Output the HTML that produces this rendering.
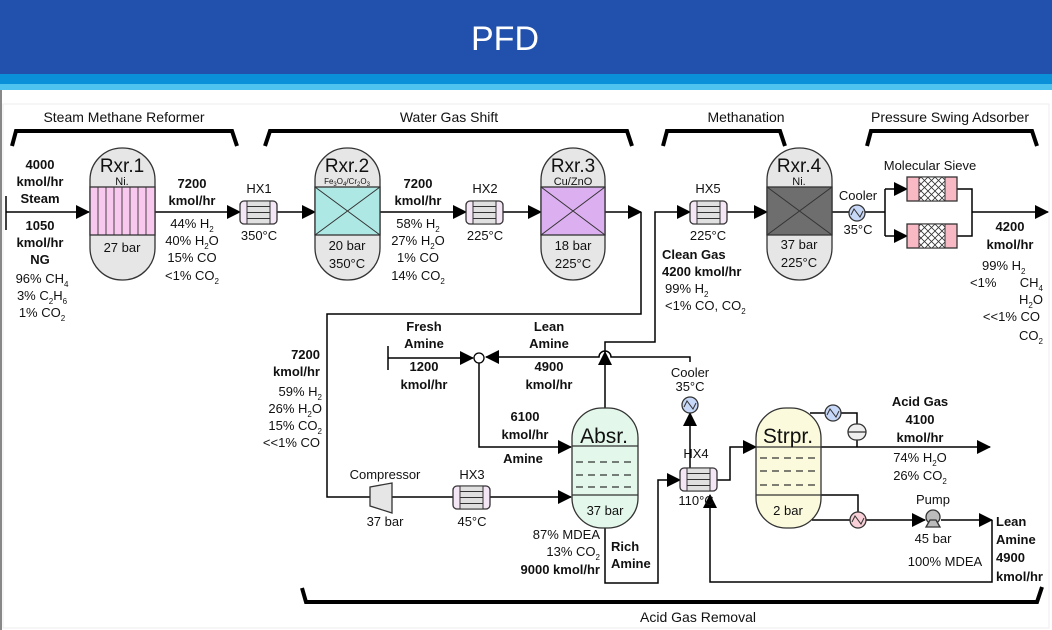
<!DOCTYPE html>
<html><head><meta charset="utf-8"><style>
html,body{margin:0;padding:0;background:#fff;}
svg{display:block;}
text{font-family:"Liberation Sans",sans-serif;fill:#111;}
.b{font-weight:bold;}
</style></head><body>
<svg width="1052" height="630" viewBox="0 0 1052 630" xmlns="http://www.w3.org/2000/svg">
<defs>
<marker id="ar" markerWidth="14" markerHeight="14" refX="13" refY="7" orient="auto" markerUnits="userSpaceOnUse"><path d="M0,0 L14,7 L0,14 Z" fill="#000"/></marker>
<pattern id="hatch" width="7" height="7" patternUnits="userSpaceOnUse"><path d="M0,0 L7,7 M7,0 L0,7" stroke="#333" stroke-width="0.8"/></pattern>
<g id="hx">
<rect x="0" y="0" width="37" height="23" rx="4" fill="#f5e6f5" stroke="#333" stroke-width="1.3"/>
<rect x="7" y="0" width="23" height="23" fill="#e0e0e0" stroke="#333" stroke-width="1"/>
<path d="M7,5.5 H30 M7,11.5 H30 M7,17.5 H30" stroke="#333" stroke-width="1"/>
</g>
<g id="sieve">
<rect x="0" y="0" width="50" height="24" fill="#f8b8c4" stroke="#333" stroke-width="1.3"/>
<rect x="12" y="0" width="26" height="24" fill="#fff" stroke="#333" stroke-width="1"/>
<rect x="12" y="0" width="26" height="24" fill="url(#hatch)"/>
</g>
</defs>
<!-- header -->
<rect x="0" y="0" width="1052" height="74" fill="#2150ad"/>
<rect x="0" y="74" width="1052" height="10" fill="#0a8fd9"/>
<rect x="0" y="84" width="1052" height="6" fill="#4fc3f0"/>
<text x="505" y="50" font-size="34" fill="#fff" text-anchor="middle" style="fill:#fff">PFD</text>
<rect x="0" y="90" width="2" height="540" fill="#888"/>
<rect x="3" y="104" width="1046" height="524" fill="none" stroke="#eee"/>

<g font-size="14" text-anchor="middle">
<text x="124" y="122">Steam Methane Reformer</text>
<text x="449" y="122">Water Gas Shift</text>
<text x="746" y="122">Methanation</text>
<text x="950" y="122">Pressure Swing Adsorber</text>
<text x="698" y="622">Acid Gas Removal</text>
</g>
<g fill="none" stroke="#000" stroke-width="4">
<path d="M12,146 L16,131 H232 L237,146"/>
<path d="M265,146 L270,131 H627 L632,146"/>
<path d="M663,146 L667,131 H780 L785,146"/>
<path d="M867,146 L871,131 H1032 L1037,146"/>
<path d="M302,588 L306,602 H1037 L1042,587"/>
</g>

<!-- lines -->
<g fill="none" stroke="#000" stroke-width="1.5">
<path d="M6,196 V230"/>
<path d="M6,212 H89" marker-end="url(#ar)"/>
<path d="M155,212 H240" marker-end="url(#ar)"/>
<path d="M277,212 H315" marker-end="url(#ar)"/>
<path d="M380,212 H466" marker-end="url(#ar)"/>
<path d="M503,212 H541" marker-end="url(#ar)"/>
<path d="M605,212 H641" marker-end="url(#ar)"/>
<path d="M641,212 V314 H327 V497 H370"/>
<path d="M392,497 H453"/>
<path d="M490,497 H571" marker-end="url(#ar)"/>
<path d="M605,408 V352" marker-end="url(#ar)"/>
<path d="M605,352 V342 H655 V212 H690" marker-end="url(#ar)"/>
<path d="M727,212 H767" marker-end="url(#ar)"/>
<path d="M832,212 H849"/>
<path d="M865,212 H885 M885,189 V236"/>
<path d="M885,189 H907" marker-end="url(#ar)"/>
<path d="M885,236 H907" marker-end="url(#ar)"/>
<path d="M957,189 H972 V236 H957 M972,212 H1048" marker-end="url(#ar)"/>
<path d="M388,346 V370 M388,358 H473" marker-end="url(#ar)"/>
<path d="M690,362 V357 H611 A6,6 0 0 0 599,357 H486" marker-end="url(#ar)"/>
<path d="M479,363 V447 H571" marker-end="url(#ar)"/>
<path d="M605,528 V583 H658 V480 H680" marker-end="url(#ar)"/>
<path d="M690,468 V413" marker-end="url(#ar)"/>
<path d="M712,480 H730 V447 H756" marker-end="url(#ar)"/>
<path d="M810,413 H825 M841,413 H857 V424 M857,440 V447"/>
<path d="M821,447 H990" marker-end="url(#ar)"/>
<path d="M821,495 H858 V512"/>
<path d="M812,520 H850 M866,520 H925" marker-end="url(#ar)"/>
<path d="M941,520 H992" marker-end="url(#ar)"/>
<path d="M992,520 V582 H710 V495" marker-end="url(#ar)"/>
</g>
<circle cx="479" cy="358" r="5" fill="#fff" stroke="#000" stroke-width="1.3"/>

<!-- Reactors -->
<g stroke="#333" stroke-width="1.3">
<rect x="90" y="148" width="65" height="132" rx="32" ry="32" fill="#e6e6e6"/>
<rect x="90" y="187" width="65" height="48" fill="#f9c8ee"/>
<path d="M98,187 V235 M106,187 V235 M114,187 V235 M122,187 V235 M130,187 V235 M138,187 V235 M146,187 V235" stroke-width="0.9"/>
<rect x="315" y="148" width="65" height="132" rx="32" ry="32" fill="#e6e6e6"/>
<rect x="315" y="187" width="65" height="48" fill="#aee8e4"/>
<path d="M315,187 L380,235 M380,187 L315,235" stroke-width="1"/>
<rect x="541" y="148" width="64" height="132" rx="32" ry="32" fill="#e6e6e6"/>
<rect x="541" y="187" width="64" height="48" fill="#dcb0f0"/>
<path d="M541,187 L605,235 M605,187 L541,235" stroke-width="1"/>
<rect x="767" y="148" width="65" height="132" rx="32" ry="32" fill="#e6e6e6"/>
<rect x="767" y="187" width="65" height="48" fill="#6e6e6e"/>
<path d="M767,187 L832,235 M832,187 L767,235" stroke-width="1"/>
<rect x="572" y="408" width="66" height="120" rx="30" ry="30" fill="#e3f7ea"/>
<path d="M572,446 H638 M572,495 H638"/>
<path d="M576,462 H636 M576,475 H636 M576,487 H636" stroke-dasharray="7,5"/>
<rect x="756" y="408" width="65" height="120" rx="30" ry="30" fill="#fbfadc"/>
<path d="M756,447 H821 M756,495 H821"/>
<path d="M760,458 H819 M760,471 H819 M760,485 H819" stroke-dasharray="7,5"/>
<path d="M370,487 L392,483 V513 L370,506 Z" fill="#e6e6e6"/>
<rect x="848" y="424" width="18" height="16" rx="8" fill="#eee"/>
<path d="M848,432 H866"/>
<circle cx="857" cy="213" r="8" fill="#c8d8f8"/>
<circle cx="690" cy="405" r="8" fill="#c8d8f8"/>
<circle cx="833" cy="413" r="8" fill="#c8d8f8"/>
<circle cx="858" cy="520" r="8" fill="#fad0d8"/>
<circle cx="933" cy="517" r="7" fill="#bbb"/>
<path d="M926,527 L940,527 L936,520 L930,520 Z" fill="#bbb"/>
</g>
<g fill="none" stroke="#333" stroke-width="1">
<path d="M851,215 L854,209 L860,217 L863,211"/>
<path d="M684,407 L687,401 L693,409 L696,403"/>
<path d="M827,415 L830,409 L836,417 L839,411"/>
<path d="M852,522 L855,516 L861,524 L864,518"/>
</g>
<use href="#hx" x="240" y="201"/>
<use href="#hx" x="466" y="201"/>
<use href="#hx" x="690" y="201"/>
<use href="#hx" x="453" y="486"/>
<use href="#hx" x="680" y="468"/>
<use href="#sieve" x="907" y="177"/>
<use href="#sieve" x="907" y="224"/>

<!-- reactor labels -->
<g text-anchor="middle">
<text x="122" y="172" font-size="19">Rxr.1</text><text x="122" y="185" font-size="11">Ni.</text><text x="122" y="252" font-size="13">27 bar</text>
<text x="347" y="172" font-size="19">Rxr.2</text><text x="347" y="184" font-size="8">Fe<tspan font-size="6" dy="2">3</tspan><tspan dy="-2">O</tspan><tspan font-size="6" dy="2">4</tspan><tspan dy="-2">/Cr</tspan><tspan font-size="6" dy="2">2</tspan><tspan dy="-2">O</tspan><tspan font-size="6" dy="2">3</tspan></text>
<text x="347" y="250" font-size="13">20 bar</text><text x="347" y="268" font-size="13">350°C</text>
<text x="573" y="172" font-size="19">Rxr.3</text><text x="573" y="185" font-size="11">Cu/ZnO</text>
<text x="573" y="250" font-size="13">18 bar</text><text x="573" y="268" font-size="13">225°C</text>
<text x="799" y="172" font-size="19">Rxr.4</text><text x="799" y="185" font-size="11">Ni.</text>
<text x="799" y="249" font-size="13">37 bar</text><text x="799" y="267" font-size="13">225°C</text>
<text x="604" y="443" font-size="21">Absr.</text><text x="605" y="515" font-size="13">37 bar</text>
<text x="788" y="443" font-size="21">Strpr.</text><text x="788" y="515" font-size="13">2 bar</text>
</g>

<g font-size="13" text-anchor="middle">
<text x="259" y="193">HX1</text><text x="259" y="240">350°C</text>
<text x="485" y="193">HX2</text><text x="485" y="240">225°C</text>
<text x="708" y="193">HX5</text><text x="708" y="240">225°C</text>
<text x="472" y="479">HX3</text><text x="472" y="526">45°C</text>
<text x="696" y="458">HX4</text><text x="696" y="505">110°C</text>
<text x="385" y="479">Compressor</text><text x="385" y="526">37 bar</text>
<text x="858" y="200">Cooler</text><text x="858" y="234">35°C</text>
<text x="690" y="377">Cooler</text><text x="690" y="391">35°C</text>
<text x="930" y="170">Molecular Sieve</text>
<text x="933" y="504">Pump</text><text x="933" y="543">45 bar</text>
<text x="945" y="566">100% MDEA</text>

<g class="b"><text x="40" y="169">4000</text><text x="40" y="186">kmol/hr</text><text x="40" y="203">Steam</text>
<text x="40" y="230">1050</text><text x="40" y="247">kmol/hr</text><text x="40" y="264">NG</text></g>
<text x="42" y="283">96% CH<tspan font-size="8" dy="4">4</tspan></text>
<text x="42" y="300">3% C<tspan font-size="8" dy="4">2</tspan><tspan dy="-4">H</tspan><tspan font-size="8" dy="4">6</tspan></text>
<text x="42" y="317">1% CO<tspan font-size="8" dy="4">2</tspan></text>

<g class="b"><text x="192" y="188">7200</text><text x="192" y="205">kmol/hr</text></g>
<text x="192" y="228">44% H<tspan font-size="8" dy="4">2</tspan></text>
<text x="192" y="245">40% H<tspan font-size="8" dy="4">2</tspan><tspan dy="-4">O</tspan></text>
<text x="192" y="262">15% CO</text>
<text x="192" y="280">&lt;1% CO<tspan font-size="8" dy="4">2</tspan></text>

<g class="b"><text x="418" y="188">7200</text><text x="418" y="205">kmol/hr</text></g>
<text x="418" y="228">58% H<tspan font-size="8" dy="4">2</tspan></text>
<text x="418" y="245">27% H<tspan font-size="8" dy="4">2</tspan><tspan dy="-4">O</tspan></text>
<text x="418" y="262">1% CO</text>
<text x="418" y="280">14% CO<tspan font-size="8" dy="4">2</tspan></text>

<g class="b"><text x="1010" y="231">4200</text><text x="1010" y="249">kmol/hr</text></g>

<g class="b"><text x="424" y="331">Fresh</text><text x="424" y="348">Amine</text><text x="424" y="371">1200</text><text x="424" y="389">kmol/hr</text>
<text x="549" y="331">Lean</text><text x="549" y="348">Amine</text><text x="549" y="371">4900</text><text x="549" y="389">kmol/hr</text>
<text x="525" y="421">6100</text><text x="525" y="439">kmol/hr</text><text x="523" y="463">Amine</text>
<text x="920" y="406">Acid Gas</text><text x="920" y="424">4100</text><text x="920" y="442">kmol/hr</text></g>
<text x="920" y="462">74% H<tspan font-size="8" dy="4">2</tspan><tspan dy="-4">O</tspan></text>
<text x="920" y="480">26% CO<tspan font-size="8" dy="4">2</tspan></text>
</g>

<g font-size="13" text-anchor="start">
<g class="b"><text x="662" y="259">Clean Gas</text><text x="662" y="276">4200 kmol/hr</text></g>
<text x="665" y="293">99% H<tspan font-size="8" dy="4">2</tspan></text>
<text x="665" y="310">&lt;1% CO, CO<tspan font-size="8" dy="4">2</tspan></text>
<g class="b"><text x="611" y="551">Rich</text><text x="611" y="568">Amine</text>
<text x="996" y="526">Lean</text><text x="996" y="544">Amine</text><text x="996" y="562">4900</text><text x="996" y="581">kmol/hr</text></g>
<text x="982" y="270">99% H<tspan font-size="8" dy="4">2</tspan></text>
<text x="970" y="287">&lt;1%</text>
</g>
<g font-size="13" text-anchor="end">
<text x="1043" y="287">CH<tspan font-size="8" dy="4">4</tspan></text>
<text x="1043" y="304">H<tspan font-size="8" dy="4">2</tspan><tspan dy="-4">O</tspan></text>
<text x="1040" y="321">&lt;&lt;1% CO</text>
<text x="1043" y="340">CO<tspan font-size="8" dy="4">2</tspan></text>
<g class="b"><text x="320" y="359">7200</text><text x="320" y="376">kmol/hr</text></g>
<text x="322" y="396">59% H<tspan font-size="8" dy="4">2</tspan></text>
<text x="322" y="413">26% H<tspan font-size="8" dy="4">2</tspan><tspan dy="-4">O</tspan></text>
<text x="322" y="430">15% CO<tspan font-size="8" dy="4">2</tspan></text>
<text x="320" y="447">&lt;&lt;1% CO</text>
<text x="600" y="539">87% MDEA</text>
<text x="600" y="556">13% CO<tspan font-size="8" dy="4">2</tspan></text>
<text x="600" y="574" class="b">9000 kmol/hr</text>
</g>
</svg>
</body></html>
